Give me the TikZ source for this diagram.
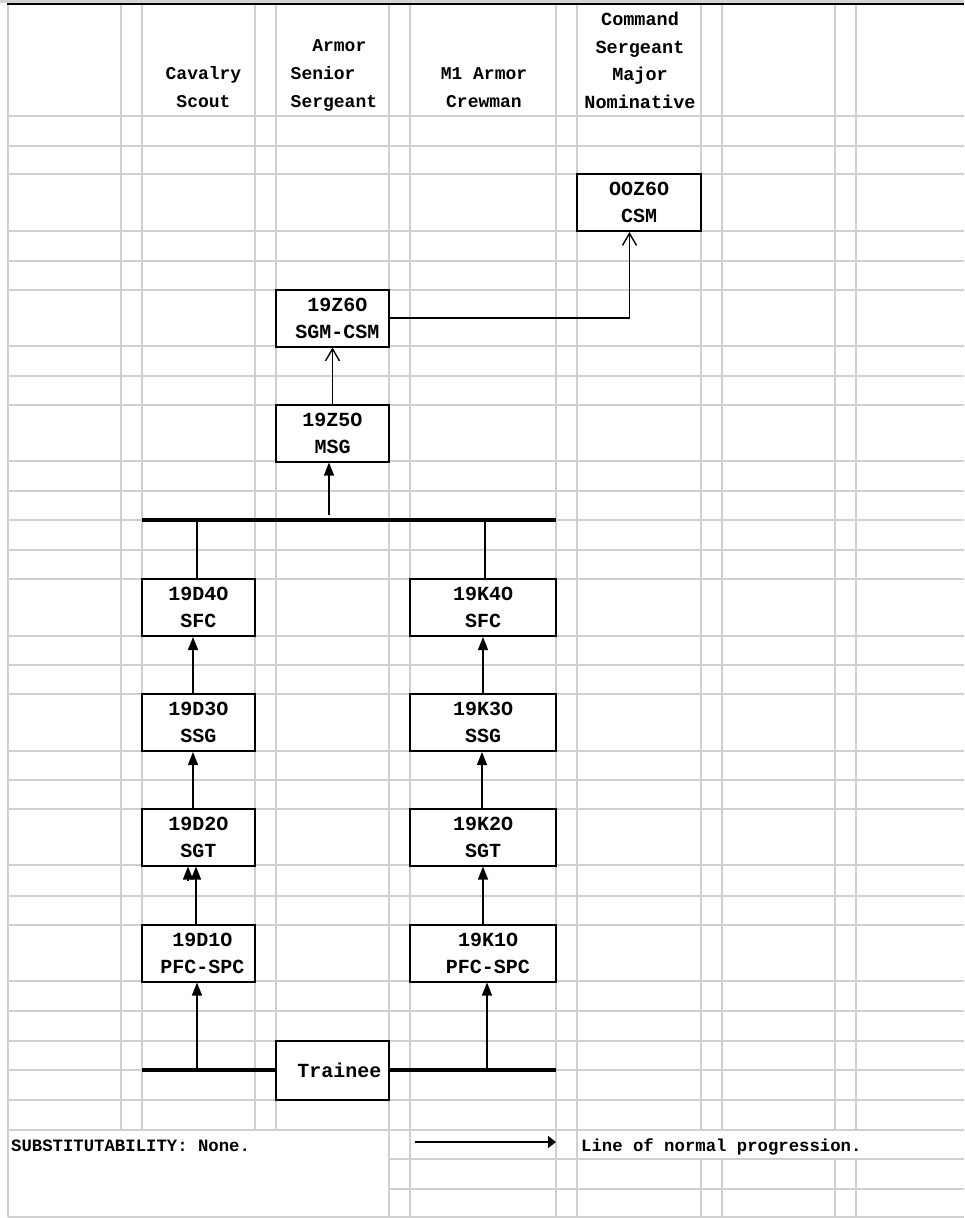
\documentclass[tikz,border=0pt]{standalone}
\usepackage{fontspec}
\setmonofont{Liberation Mono}
\usetikzlibrary{arrows.meta}
\definecolor{gridgray}{RGB}{208,208,208}

\begin{document}
\begin{tikzpicture}[x=1pt,y=-1pt,
    gridline/.style={gridgray,line width=2pt},
    mosbox/.style={draw,line width=2pt,fill=white,minimum width=113pt,minimum height=57pt,
      inner sep=0pt,align=center,font=\ttfamily\bfseries\fontsize{20}{27}\selectfont},
    head/.style={inner sep=0pt,align=center,anchor=base,
      font=\ttfamily\bfseries\fontsize{18}{28}\selectfont},
    legend/.style={inner sep=0pt,anchor=base west,
      font=\ttfamily\bfseries\fontsize{17.3}{20}\selectfont},
    prog/.style={line width=1.4pt,-{Triangle[length=13pt,width=10pt]}},
    feed/.style={line width=1.4pt,-{Straight Barb[length=12pt,width=14pt]}},
    bar/.style={line width=4pt}]

\useasboundingbox (0,0) rectangle (964,1218);

% spreadsheet grid
\foreach \y in {116,146,174,231,261,290,346,376,405,461,491,520,550,579,636,665,694,751,
  780,809,865,896,925,981,1011,1041,1070,1100,1130,1217}
  \draw[gridline] (8,\y) -- (964,\y);
\foreach \y in {1159,1189}
  \draw[gridline] (389,\y) -- (964,\y);
\foreach \x in {121,142,255,276}
  \draw[gridline] (\x,4) -- (\x,1130);
\foreach \x in {8,389,410,556,577}
  \draw[gridline] (\x,4) -- (\x,1217);
\foreach \x in {701,722,835,856} {
  \draw[gridline] (\x,4) -- (\x,1130);
  \draw[gridline] (\x,1159) -- (\x,1217);
}
\draw[gray!35,line width=3pt] (0,1.5) -- (964,1.5);
\draw[line width=2pt] (7,4) -- (964,4);

% column heads
\node[head] (cav) at (203.5,107) {Cavalry\\Scout};
\node[head,align=left,anchor=base west] (sen) at (290.5,107) {\hspace*{21.6pt}Armor\\Senior\\Sergeant};
\node[head] (crew) at (484,107) {M1 Armor\\Crewman};
\node[head,font=\ttfamily\bfseries\fontsize{18.5}{27.5}\selectfont] (nom) at (640,108) {Command\\Sergeant\\Major\\Nominative};

% positions
\node[mosbox,minimum width=124pt] (csm) at (639,202.5) {OOZ6O\\CSM};
\node[mosbox] (z6) at (332.5,318) {\hspace*{10pt}19Z6O\\\hspace*{10pt}SGM-CSM};
\node[mosbox] (z5) at (332.5,433) {19Z5O\\MSG};
\node[mosbox] (d4) at (198.5,607.5) {19D4O\\SFC};
\node[mosbox] (d3) at (198.5,722.5) {19D3O\\SSG};
\node[mosbox] (d2) at (198.5,837) {19D2O\\SGT};
\node[mosbox] (d1) at (198.5,953) {\hspace*{8pt}19D1O\\\hspace*{8pt}PFC-SPC};
\node[mosbox,minimum width=146pt] (k4) at (483,607.5) {19K4O\\SFC};
\node[mosbox,minimum width=146pt] (k3) at (483,722.5) {19K3O\\SSG};
\node[mosbox,minimum width=146pt] (k2) at (483,837) {19K2O\\SGT};
\node[mosbox,minimum width=146pt] (k1) at (483,953) {\hspace*{10pt}19K1O\\\hspace*{10pt}PFC-SPC};
\node[mosbox,minimum height=59pt] (trn) at (332.5,1070) {\hspace*{14pt}Trainee};

% bars
\coordinate (tbl) at (142,520);
\coordinate (tbr) at (556,520);
\coordinate (bbl) at (142,1070);
\coordinate (bbr) at (556,1070);
\draw[bar] (tbl) -- (tbr);
\draw[bar] (bbl) -- (trn.west);
\draw[bar] (trn.east) -- (bbr);

% cavalry scout
\coordinate (dt) at (197,1070);
\draw[prog] (dt) -- (dt |- d1.south);
\draw[prog] ([xshift=-2.5pt]d1.north) -- ([xshift=-2.5pt]d2.south);
\draw[prog] ([xshift=-10.5pt,yshift=-14pt]d2.south) -- ([xshift=-10.5pt]d2.south);
\draw[prog] ([xshift=-5.5pt]d2.north) -- ([xshift=-5.5pt]d3.south);
\draw[prog] ([xshift=-5.5pt]d3.north) -- ([xshift=-5.5pt]d4.south);
\draw[line width=1.4pt] ([xshift=-1.5pt]d4.north) -- ([xshift=-1.5pt]d4.north |- tbl);

% armor crewman
\coordinate (kt) at (487,1072);
\draw[prog] (kt) -- (kt |- k1.south);
\draw[prog] (k1.north) -- (k2.south);
\draw[prog] ([xshift=-1pt]k2.north) -- ([xshift=-1pt]k3.south);
\draw[prog] (k3.north) -- (k4.south);
\draw[line width=1.4pt] ([xshift=2pt]k4.north) -- ([xshift=2pt]k4.north |- tbr);

% senior sergeant
\coordinate (zt) at (329,515);
\draw[prog] (zt) -- (zt |- z5.south);
\draw[feed] (z5.north) -- (z6.south);
\draw[feed] (z6.east) -| ([xshift=-9.5pt]csm.south);

% legend
\node[legend] (sub) at (11,1151.5) {SUBSTITUTABILITY: None.};
\node[legend] (lnp) at (581,1151.5) {Line of normal progression.};
\coordinate (lga) at (415,1142);
\coordinate (lgb) at (556,1142);
\draw[line width=1.4pt,-{Triangle[length=8pt,width=12pt]}] (lga) -- (lgb);
\end{tikzpicture}
\end{document}
